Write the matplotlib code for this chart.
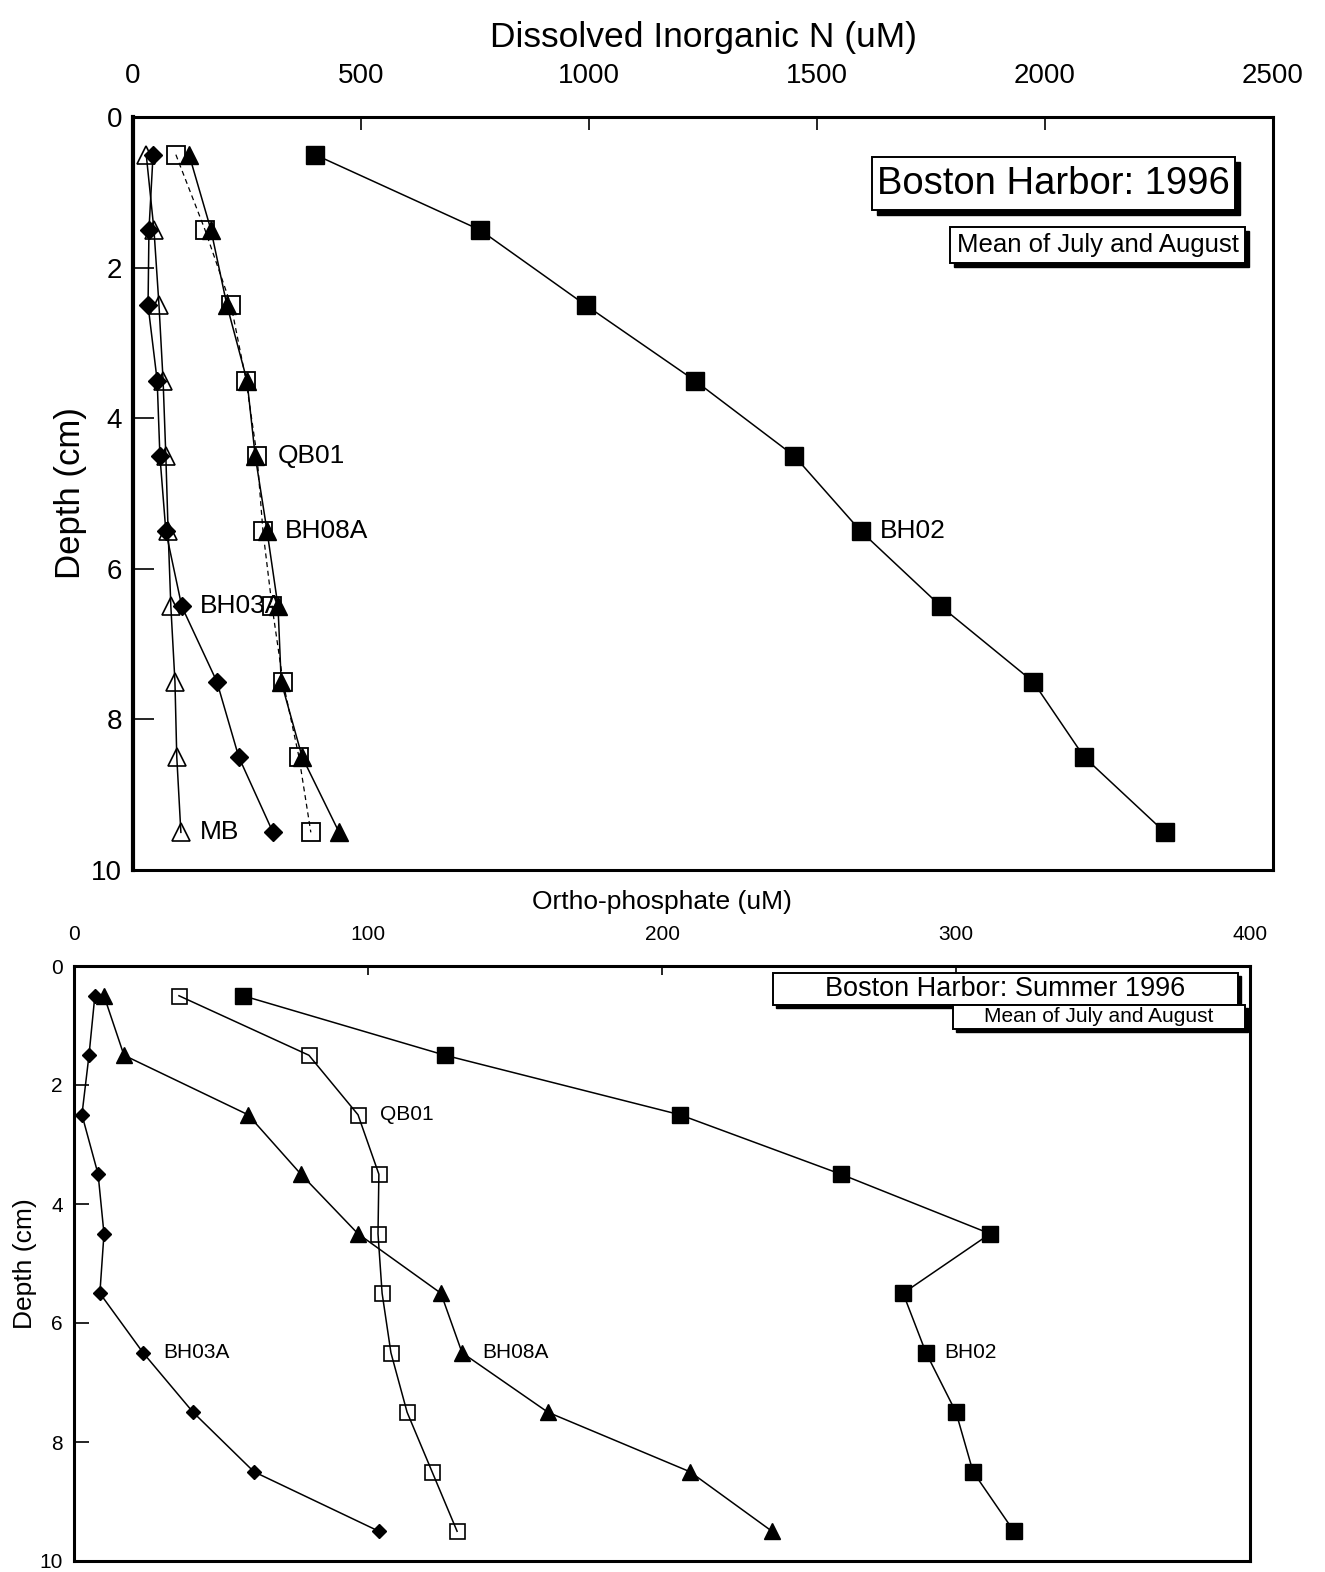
"""
Boston Harbor 1996 porewater profiles: DIN and ortho-phosphate vs depth.
"""
import matplotlib
matplotlib.use("Agg")
import matplotlib.pyplot as plt
from matplotlib.patches import Rectangle

plt.rcParams["font.family"] = ["Liberation Sans", "DejaVu Sans"]

W, H = 1325, 1572

# ---- data ----
depth = [0.5, 1.5, 2.5, 3.5, 4.5, 5.5, 6.5, 7.5, 8.5, 9.5]

din_bh02 = [399, 761, 993, 1232, 1450, 1596, 1772, 1974, 2086, 2263]
din_qb01 = [94, 158, 215, 248, 272, 285, 305, 329, 364, 390]
din_bh08a = [123, 171, 206, 250, 268, 294, 318, 325, 371, 452]
din_bh03a = [44, 35, 33, 53, 59, 72, 107, 184, 232, 307]
din_mb = [29, 46, 57, 66, 72, 77, 83, 92, 96, 105]

po4_bh02 = [57.5, 126.2, 206.1, 260.9, 311.6, 282.0, 289.8, 300.0, 305.8, 319.7]
po4_qb01 = [35.7, 79.9, 96.6, 103.7, 103.4, 104.8, 107.8, 113.3, 121.8, 130.3]
po4_bh08a = [10.2, 17.0, 59.2, 77.2, 96.6, 124.8, 132.0, 161.2, 209.5, 237.4]
po4_bh03a = [7.1, 5.1, 2.7, 8.2, 10.2, 8.8, 23.5, 40.5, 61.2, 103.7]

din_ticks = [0, 500, 1000, 1500, 2000, 2500]
po4_ticks = [0, 100, 200, 300, 400]
depth_ticks = [0, 2, 4, 6, 8, 10]


def fx(px):
    return px / W


def fy(py):
    return 1 - py / H


def shadow_box(fig, x0, y0, x1, y1, text, size, off=5):
    """white box with a black drop shadow, pixel coords from top-left"""
    w, h = (x1 - x0) / W, (y1 - y0) / H
    fig.patches.append(Rectangle((fx(x0 + off), fy(y1 + off)), w, h,
                                 transform=fig.transFigure, fc="black",
                                 ec="black", zorder=5))
    fig.patches.append(Rectangle((fx(x0), fy(y1)), w, h,
                                 transform=fig.transFigure, fc="white",
                                 ec="black", lw=1.4, zorder=6))
    fig.text(fx((x0 + x1) / 2), fy((y0 + y1) / 2), text, ha="center",
             va="center", fontsize=size, zorder=7)


def style_axes(ax, lw, tick_len, tick_size, xpad, ypad):
    for sp in ax.spines.values():
        sp.set_linewidth(lw)
    ax.xaxis.tick_top()
    ax.xaxis.set_label_position("top")
    ax.tick_params(axis="x", top=True, bottom=False, direction="in",
                   length=tick_len * 0.6, width=1.2, labelsize=tick_size,
                   pad=xpad)
    ax.tick_params(axis="y", left=True, right=False, direction="in",
                   length=tick_len, width=1.2, labelsize=tick_size, pad=ypad)


fig = plt.figure(figsize=(W / 100, H / 100), dpi=100)

# ---- top panel: DIN ----
ax1 = fig.add_axes([fx(133), fy(870), (1273 - 133) / W, (870 - 117) / H])
line_kw = dict(color="black", lw=1.1)
ax1.plot(din_bh02, depth, marker="s", ms=13.5, mfc="black", mec="black", **line_kw)
ax1.plot(din_qb01, depth, marker="s", ms=13.5, mfc="none", mec="black",
         mew=1.3, color="black", lw=0.9, ls=(0, (4, 3)))
ax1.plot(din_bh08a, depth, marker="^", ms=13, mfc="black", mec="black", **line_kw)
ax1.plot(din_bh03a, depth, marker="D", ms=9.5, mfc="black", mec="black", **line_kw)
ax1.plot(din_mb, depth, marker="^", ms=13.5, mfc="none", mec="black",
         mew=1.2, **line_kw)

ax1.set_xlim(0, 2500)
ax1.set_ylim(10, 0)
ax1.set_xticks(din_ticks)
ax1.set_yticks(depth_ticks)
style_axes(ax1, 2.2, 15, 20, 20, 8)
ax1.spines["left"].set_linewidth(3)
ax1.set_xlabel("Dissolved Inorganic N (uM)", fontsize=25.5, labelpad=12)
ax1.set_ylabel("Depth (cm)", fontsize=25, labelpad=3)

lab1 = dict(fontsize=19, va="center", ha="left")
ax1.text(318, 4.5, "QB01", **lab1)
ax1.text(333, 5.5, "BH08A", **lab1)
ax1.text(147, 6.5, "BH03A", **lab1)
ax1.text(147, 9.5, "MB", **lab1)
ax1.text(1638, 5.5, "BH02", **lab1)

shadow_box(fig, 872, 157, 1235, 210, "Boston Harbor: 1996", 27.5, off=5)
shadow_box(fig, 950, 227, 1245, 263, "Mean of July and August", 18.5, off=4)

# ---- bottom panel: ortho-phosphate ----
ax2 = fig.add_axes([fx(74), fy(1561), (1250 - 74) / W, (1561 - 966) / H])
ax2.plot(po4_bh02, depth, marker="s", ms=11.3, mfc="black", mec="black", **line_kw)
ax2.plot(po4_qb01, depth, marker="s", ms=10.8, mfc="none", mec="black",
         mew=1.2, **line_kw)
ax2.plot(po4_bh08a, depth, marker="^", ms=11, mfc="black", mec="black", **line_kw)
ax2.plot(po4_bh03a, depth, marker="D", ms=6.8, mfc="black", mec="black", **line_kw)

ax2.set_xlim(0, 400)
ax2.set_ylim(10, 0)
ax2.set_xticks(po4_ticks)
ax2.set_yticks(depth_ticks)
style_axes(ax2, 2.2, 11, 15, 16, 8)
ax2.set_xlabel("Ortho-phosphate (uM)", fontsize=19, labelpad=11)
ax2.set_ylabel("Depth (cm)", fontsize=19, labelpad=2)

lab2 = dict(fontsize=15, va="center", ha="left")
ax2.text(104, 2.5, "QB01", **lab2)
ax2.text(30.3, 6.5, "BH03A", **lab2)
ax2.text(139, 6.5, "BH08A", **lab2)
ax2.text(296, 6.5, "BH02", **lab2)

shadow_box(fig, 773, 973, 1238, 1005, "Boston Harbor: Summer 1996", 19.5, off=3)
shadow_box(fig, 953, 1005, 1245, 1029, "Mean of July and August", 15, off=3)

fig.savefig("out.png", dpi=100)
